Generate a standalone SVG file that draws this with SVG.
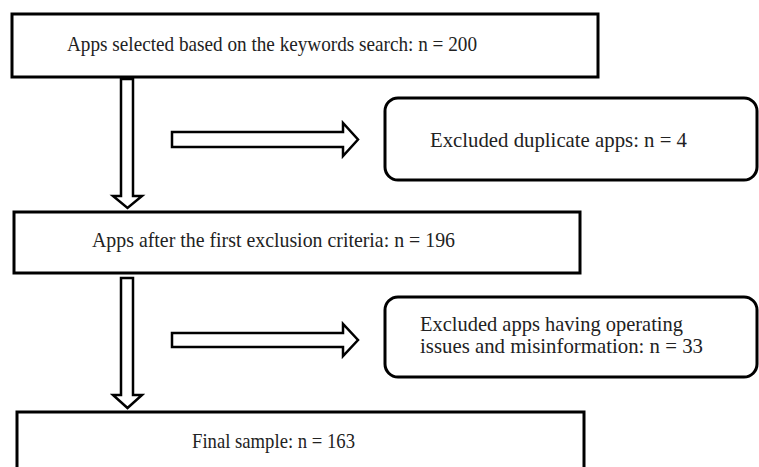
<svg xmlns="http://www.w3.org/2000/svg" width="759" height="467" viewBox="0 0 759 467">
<style>
.box{fill:#fff;stroke:#000;stroke-width:3}
.arr{fill:#fff;stroke:#000;stroke-width:2.5;stroke-linejoin:miter}
.t{font-family:"Liberation Serif","DejaVu Serif",serif;font-size:21px;fill:#222}
</style>
<rect width="759" height="467" fill="#fff"/>
<g id="connectors">
<polygon class="arr" points="121,79 133,79 133,196 142,196 127.5,208 113,196 121,196"/>
<polygon class="arr" points="172,132 343,132 343,123 358,139.5 343,156 343,147 172,147"/>
<polygon class="arr" points="121,278 133,278 133,395 142,395 127.5,408 113,395 121,395"/>
<polygon class="arr" points="172,333 343,333 343,324 358,340 343,356 343,347 172,347"/>
</g>
<g id="n1">
<rect class="box" x="12" y="14" width="586" height="63"/>
<text class="t" x="67" y="51" textLength="410" lengthAdjust="spacingAndGlyphs">Apps selected based on the keywords search: n = 200</text>
</g>
<g id="n2">
<rect class="box" x="385" y="98" width="372" height="82" rx="13"/>
<text class="t" x="430" y="147" textLength="257" lengthAdjust="spacingAndGlyphs">Excluded duplicate apps: n = 4</text>
</g>
<g id="n3">
<rect class="box" x="14" y="212" width="566" height="61"/>
<text class="t" x="92" y="247" textLength="363" lengthAdjust="spacingAndGlyphs">Apps after the first exclusion criteria: n = 196</text>
</g>
<g id="n4">
<rect class="box" x="385" y="297" width="372" height="80" rx="13"/>
<text class="t" x="420" y="331" textLength="263" lengthAdjust="spacingAndGlyphs">Excluded apps having operating</text>
<text class="t" x="420" y="353" textLength="283" lengthAdjust="spacingAndGlyphs">issues and misinformation: n = 33</text>
</g>
<g id="n5">
<rect class="box" x="17" y="412" width="567" height="70"/>
<text class="t" x="192" y="448" textLength="163" lengthAdjust="spacingAndGlyphs">Final sample: n = 163</text>
</g>
</svg>
